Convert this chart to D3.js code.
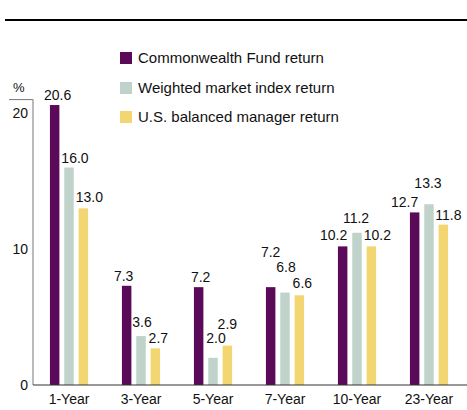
<!DOCTYPE html>
<html>
<head>
<meta charset="utf-8">
<script src="https://cdn.jsdelivr.net/npm/d3@7"></script>
<style>
  html, body { margin: 0; padding: 0; background: #fff; }
  svg { display: block; font-family: 'Liberation Sans', Arial, sans-serif; }
</style>
</head>
<body>
<svg width="467" height="410"></svg>
<script>
// data
const periods = ['1-Year', '3-Year', '5-Year', '7-Year', '10-Year', '23-Year'];
const seriesNames = ['Commonwealth Fund return', 'Weighted market index return', 'U.S. balanced manager return'];
const fundReturn = [20.6, 7.3, 7.2, 7.2, 10.2, 12.7];
const marketReturn = [16.0, 3.6, 2.0, 6.8, 11.2, 13.3];
const managerReturn = [13.0, 2.7, 2.9, 6.6, 10.2, 11.8];
const yTicks = [0, 10, 20];

const colors = ['#5a0a58', '#bfd3ca', '#f3d672'];
// label nudges [dx, dy] so the value labels sit as in the original
const labelNudge = [
  [[3, 0], [6, 0], [6, -1]],
  [[-3, 0], [1, -4], [3, 0]],
  [[2, 0], [3, -10], [0, -12]],
  [[0, -25], [1, -16], [3, -2]],
  [[-9, -1], [-1, -5], [6, -1]],
  [[-10, 0], [-1, -11], [5, 0]]
];

const rows = periods.map((p, i) => ({
  period: p,
  values: [fundReturn[i], marketReturn[i], managerReturn[i]]
}));

const svg = d3.select('svg');

// rule across the top
svg.append('line')
    .attr('x1', 5).attr('x2', 467)
    .attr('y1', 20).attr('y2', 20)
    .attr('stroke', '#000')
    .attr('stroke-width', 2);

const x = d3.scaleBand()
    .domain(periods)
    .range([33, 465])
    .paddingInner(0.47)
    .paddingOuter(0.235);

const xInner = d3.scaleBand()
    .domain(d3.range(3))
    .range([0, x.bandwidth()])
    .paddingInner(0.34);

const y = d3.scaleLinear()
    .domain([0, 21])
    .range([385, 99.6]);

// y axis
const yAxis = svg.append('g')
    .attr('transform', 'translate(33,0)')
    .call(d3.axisLeft(y).tickValues(yTicks).tickSize(0).tickPadding(5));
yAxis.select('.domain').remove();
yAxis.selectAll('text')
    .style('font-size', '14px')
    .style('font-family', "'Liberation Sans', Arial, sans-serif")
    .attr('fill', '#111');

svg.append('line')
    .attr('x1', 33).attr('x2', 33)
    .attr('y1', y(21)).attr('y2', y(0))
    .attr('stroke', '#777');
svg.append('line')
    .attr('x1', 9).attr('x2', 33)
    .attr('y1', y(21)).attr('y2', y(21))
    .attr('stroke', '#777');

svg.append('text')
    .text('%')
    .attr('x', 13)
    .attr('y', 92)
    .style('font-size', '13px')
    .attr('fill', '#111');

// bars
const groups = svg.append('g')
  .selectAll('g')
  .data(rows)
  .join('g')
    .attr('transform', d => `translate(${x(d.period)},0)`);

groups.selectAll('rect')
  .data(d => d.values.map((v, k) => ({ v, k })))
  .join('rect')
    .attr('x', d => xInner(d.k))
    .attr('width', xInner.bandwidth())
    .attr('y', d => y(d.v))
    .attr('height', d => y(0) - y(d.v))
    .attr('fill', d => colors[d.k]);

groups.each(function(d, i) {
  d3.select(this).selectAll('text.val')
    .data(d.values.map((v, k) => ({ v, k })))
    .join('text')
      .attr('class', 'val')
      .attr('text-anchor', 'middle')
      .attr('x', e => xInner(e.k) + xInner.bandwidth() / 2 + labelNudge[i][e.k][0])
      .attr('y', e => y(e.v) - 5 + labelNudge[i][e.k][1])
      .style('font-size', '14px')
      .attr('fill', '#111')
      .text(e => e.v.toFixed(1));
});

// x axis
const xAxis = svg.append('g')
    .attr('transform', `translate(0,${y(0)})`)
    .call(d3.axisBottom(x).tickSize(0).tickPadding(9));
xAxis.select('.domain').remove();
xAxis.selectAll('text')
    .style('font-size', '14px')
    .style('font-family', "'Liberation Sans', Arial, sans-serif")
    .attr('fill', '#111');

svg.append('line')
    .attr('x1', 33).attr('x2', 467)
    .attr('y1', y(0)).attr('y2', y(0))
    .attr('stroke', '#333')
    .attr('stroke-width', 1.2);

// legend
const legend = svg.append('g')
  .selectAll('g')
  .data(seriesNames)
  .join('g')
    .attr('transform', (d, i) => `translate(120,${[58, 88, 117][i]})`);

legend.append('rect')
    .attr('x', 0).attr('y', -6)
    .attr('width', 12).attr('height', 12)
    .attr('fill', (d, i) => colors[i]);

legend.append('text')
    .attr('x', 18)
    .attr('y', 5)
    .style('font-size', '15px')
    .attr('fill', '#111')
    .text(d => d);
</script>
</body>
</html>
